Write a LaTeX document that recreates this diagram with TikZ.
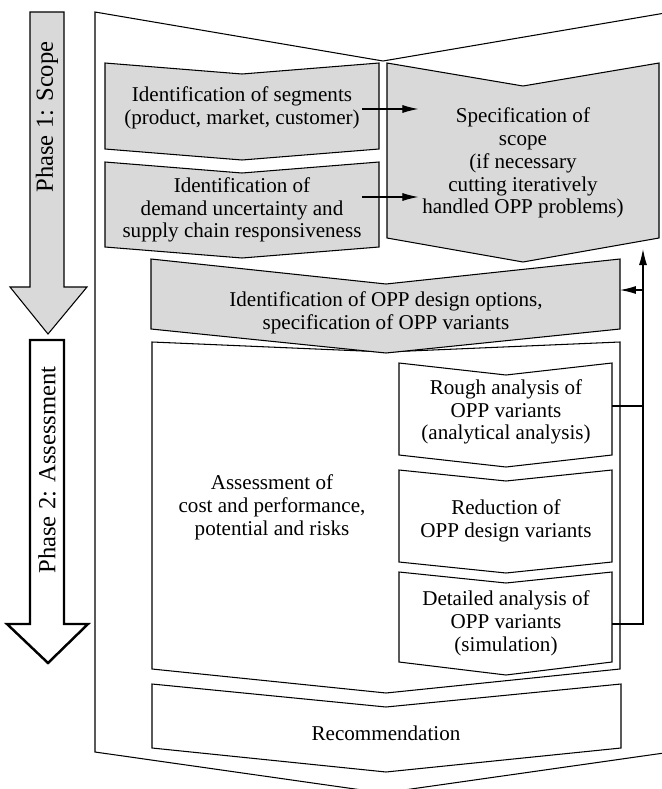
\documentclass[tikz,border=0pt]{standalone}
\usepackage{fontspec}
\setmainfont{Liberation Serif}
\usetikzlibrary{arrows.meta}
\definecolor{boxgray}{RGB}{217,217,217}

\begin{document}
\begin{tikzpicture}[x=0.02cm, y=-0.02cm,
  chev/.style={draw, line width=0.6pt},
  grey/.style={chev, fill=boxgray},
  txt/.style={align=center, inner sep=2pt, font=\fontsize{12}{13}\selectfont},
  phase/.style={rotate=90, inner sep=2pt, font=\fontsize{14}{16}\selectfont},
  flow/.style={line width=0.6pt, -{Latex[length=3.2mm,width=1.6mm]}}]
\useasboundingbox (0,0) rectangle (662,789);

% outer frame
\draw[chev] (95,12) -- (383,61) -- (671,12) -- (671,752) -- (383,793) -- (95,752) -- cycle;

% phase arrows
\draw[grey] (30,12) -- (64,12) -- (64,287) -- (87,287) -- (48,334) -- (10,287) -- (30,287) -- cycle;
\node[phase] (ph1) at (47,117) {Phase 1: Scope};
\draw[chev, line width=1.4pt, fill=white] (30,340) -- (64,340) -- (64,624) -- (88,624) -- (48,663) -- (7,624) -- (30,624) -- cycle;
\node[phase] (ph2) at (47,470) {Phase 2: Assessment};

% phase 1 boxes
\draw[grey] (105,63) -- (242,74) -- (379,63) -- (379,149) -- (242,160) -- (105,149) -- cycle;
\draw[grey] (105,162) -- (242,173) -- (379,162) -- (379,247) -- (242,258) -- (105,247) -- cycle;
\draw[grey] (387,63) -- (523,86) -- (659,63) -- (659,238) -- (523,262) -- (387,238) -- cycle;
\draw[chev, fill=white] (152,342) -- (386,352) -- (620,342) -- (620,669) -- (386,693) -- (152,669) -- cycle;
\draw[grey] (151,259) -- (386,284) -- (620,259) -- (620,329) -- (386,353) -- (151,329) -- cycle;

% phase 2 boxes
\draw[chev, fill=white] (399,363) -- (506,375) -- (612,363) -- (612,455) -- (506,467) -- (399,455) -- cycle;
\draw[chev, fill=white] (399,470) -- (506,481) -- (612,470) -- (612,562) -- (506,573) -- (399,562) -- cycle;
\draw[chev, fill=white] (399,572) -- (506,583) -- (612,572) -- (612,662) -- (506,675) -- (399,662) -- cycle;
\draw[chev, fill=white] (152,684) -- (386,707) -- (621,684) -- (621,748) -- (386,772) -- (152,748) -- cycle;

\node[txt] (seg) at (242,108) {Identification of segments\\(product, market, customer)};
\node[txt] (dem) at (242,210) {Identification of\\demand uncertainty and\\supply chain responsiveness};
\node[txt] (scope) at (523,163) {Specification of\\scope\\(if necessary\\cutting iteratively\\handled OPP problems)};
\node[txt] (opp) at (386,313) {Identification of OPP design options,\\specification of OPP variants};
\node[txt] (assess) at (272,507) {Assessment of\\cost and performance,\\potential and risks};
\node[txt] (rough) at (506,412) {Rough analysis of\\OPP variants\\(analytical analysis)};
\node[txt] (reduce) at (506,521) {Reduction of\\OPP design variants};
\node[txt] (detail) at (506,623) {Detailed analysis of\\OPP variants\\(simulation)};
\node[txt] (rec) at (386,733) {Recommendation};

% connectors
\coordinate (segout) at (362,109);
\coordinate (demout) at (362,197);
\draw[flow] (segout) -- (segout -| scope.west);
\draw[flow] (demout) -- (demout -| scope.west);

\coordinate (roughout) at (612,406);
\coordinate (detailout) at (612,624);
\coordinate (loop) at (643,249);
\coordinate (back) at (643,290);
\coordinate (oppin) at (620,290);
\draw[line width=0.6pt] (roughout) -- (roughout -| loop);
\draw[flow] (detailout) -- (detailout -| loop) -- (loop);
\draw[flow] (back) -- (oppin);
\end{tikzpicture}
\end{document}
